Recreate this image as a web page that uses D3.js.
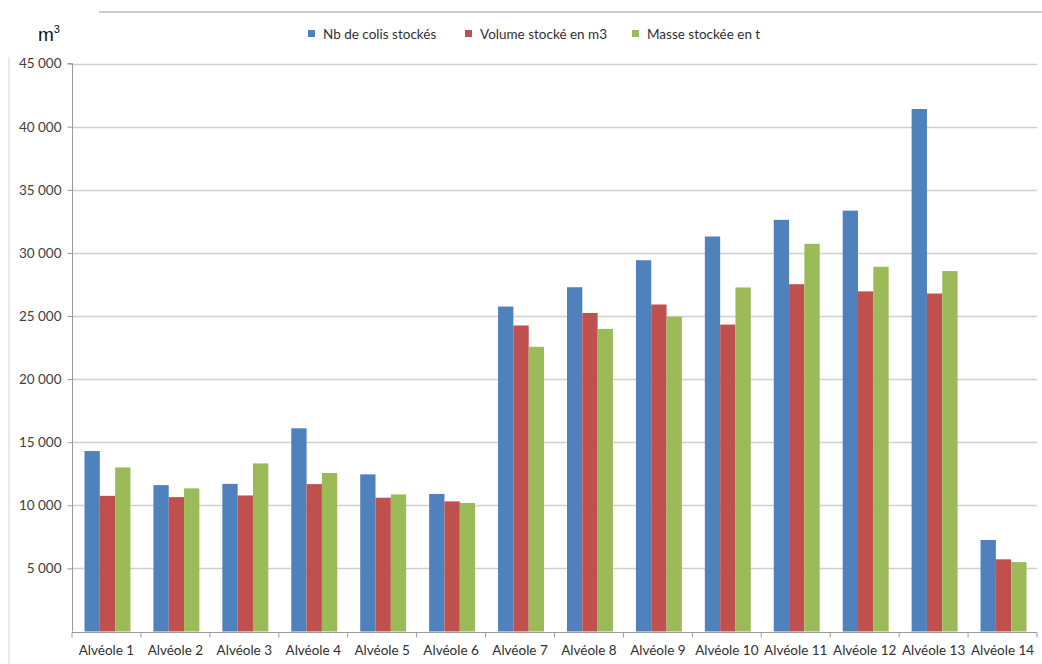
<!DOCTYPE html>
<html>
<head>
<meta charset="utf-8">
<script src="https://cdn.jsdelivr.net/npm/d3@7"></script>
<style>
  html, body { margin: 0; padding: 0; background: #fff; }
  svg { display: block; font-family: Lato, "Open Sans", sans-serif; }
</style>
</head>
<body>
<svg id="chart" width="1042" height="664"></svg>
<script>
// Storage cells
const categories = ["Alvéole 1","Alvéole 2","Alvéole 3","Alvéole 4","Alvéole 5","Alvéole 6","Alvéole 7",
                    "Alvéole 8","Alvéole 9","Alvéole 10","Alvéole 11","Alvéole 12","Alvéole 13","Alvéole 14"];
const seriesNames = ["Nb de colis stockés","Volume stocké en m3","Masse stockée en t"];
const colis  = [14300, 11600, 11700, 16100, 12450, 10900, 25750, 27280, 29420, 31300, 32620, 33350, 41400, 7250];
const volume = [10750, 10650, 10780, 11680, 10600, 10310, 24250, 25240, 25910, 24320, 27520, 26950, 26780, 5720];
const masse  = [13000, 11340, 13320, 12560, 10860, 10180, 22560, 23980, 24940, 27260, 30720, 28900, 28560, 5500];
const yTicks = [5000, 10000, 15000, 20000, 25000, 30000, 35000, 40000, 45000];
const colors = ["#4F81BD", "#C0504D", "#9BBB59"];

const series = [colis, volume, masse];
const svg = d3.select("#chart");

const plot = { left: 72, right: 1037, top: 63.6, bottom: 631.5 };

const x = d3.scaleBand().domain(categories).range([plot.left, plot.right]);
// three bars per category, 150% gap shared on both sides
const xs = d3.scaleBand().domain(d3.range(series.length))
  .range([1, x.bandwidth() + 1]).paddingInner(0).paddingOuter(0.75);
const y = d3.scaleLinear().domain([0, 45000]).range([plot.bottom, plot.top]);

// Frame lines
svg.append("line").attr("x1", 99).attr("x2", 1042).attr("y1", 12).attr("y2", 12)
  .attr("stroke", "#bdbdbd").attr("stroke-width", 1.5);
svg.append("line").attr("x1", 9).attr("x2", 9).attr("y1", 57).attr("y2", 664)
  .attr("stroke", "#d4d4d4").attr("stroke-width", 1);

// Unit label
const unit = svg.append("text").attr("x", 38).attr("y", 41)
  .attr("font-family", "'Liberation Sans', Arial, sans-serif").attr("font-size", 19).attr("fill", "#111");
unit.append("tspan").text("m");
unit.append("tspan").attr("font-size", 11).attr("dy", -8).text("3");

// Gridlines
svg.append("g").selectAll("line").data(yTicks).join("line")
  .attr("x1", plot.left).attr("x2", plot.right)
  .attr("y1", d => Math.round(y(d)) + 0.5).attr("y2", d => Math.round(y(d)) + 0.5)
  .attr("stroke", "#cfcfcf").attr("stroke-width", 1.3);

// Bars
const groups = svg.append("g").selectAll("g").data(series).join("g").attr("fill", (d, i) => colors[i]);
groups.each(function(vals, si) {
  d3.select(this).selectAll("rect").data(vals).join("rect")
    .attr("x", (v, ci) => x(categories[ci]) + xs(si))
    .attr("width", xs.bandwidth())
    .attr("y", v => y(v))
    .attr("height", v => y(0) - y(v));
});

// Y axis
const yAxis = d3.axisLeft(y).tickValues(yTicks).tickSize(5)
  .tickFormat(d => d3.format(",")(d).replace(/,/g, " "));
const gy = svg.append("g").attr("transform", `translate(${plot.left + 0.5},0)`).call(yAxis);
gy.select(".domain").attr("stroke", "#9a9a9a").attr("d", `M-5,${plot.top}H0V${plot.bottom}`);
gy.selectAll(".tick line").attr("stroke", "#9a9a9a");
gy.selectAll(".tick text").attr("font-size", 13.5).attr("fill", "#404040").attr("x", -11)
  .attr("font-family", "Lato, sans-serif");

// X axis with ticks between categories
const gx = svg.append("g").attr("transform", `translate(0,${Math.round(plot.bottom) + 0.5})`);
gx.append("line").attr("x1", plot.left).attr("x2", plot.right).attr("stroke", "#9a9a9a");
gx.selectAll("line.tk").data(d3.range(categories.length + 1)).join("line").attr("class", "tk")
  .attr("x1", i => plot.left + i * x.bandwidth()).attr("x2", i => plot.left + i * x.bandwidth())
  .attr("y1", 0).attr("y2", 5).attr("stroke", "#9a9a9a");
gx.selectAll("text").data(categories).join("text")
  .attr("x", d => x(d) + x.bandwidth() / 2).attr("y", 22)
  .attr("text-anchor", "middle").attr("font-size", 13.5).attr("fill", "#303030").text(d => d);

// Legend
const legendX = [308, 465, 632];
const lg = svg.append("g").selectAll("g").data(seriesNames).join("g")
  .attr("transform", (d, i) => `translate(${legendX[i]},34)`);
lg.append("rect").attr("x", 0).attr("y", -4).attr("width", 7).attr("height", 7).attr("fill", (d, i) => colors[i]);
lg.append("text").attr("x", 15).attr("y", 4.5).attr("font-size", 13.5).attr("fill", "#303030").text(d => d);
</script>
</body>
</html>
